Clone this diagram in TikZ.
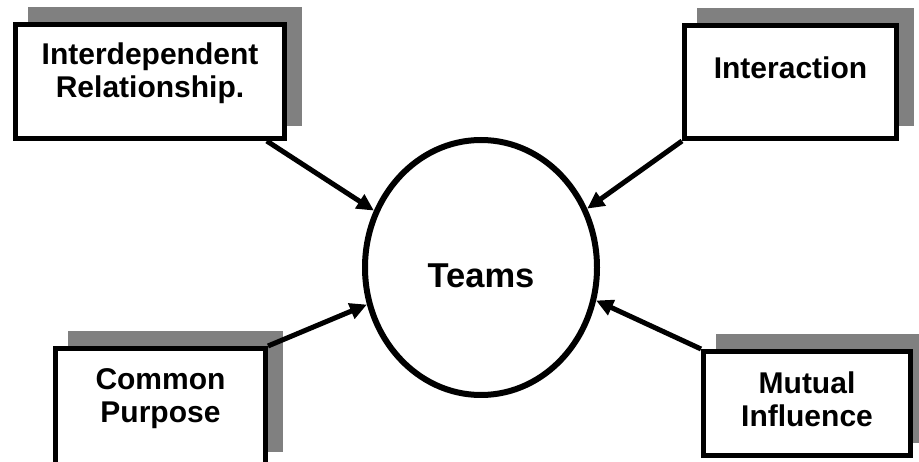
\documentclass[tikz,border=0pt]{standalone}
\usepackage{fontspec}
\setmainfont{Liberation Sans}
\usepackage{tikz}
\usetikzlibrary{arrows.meta,shapes.geometric,shadows}
\definecolor{shadowgray}{HTML}{808080}

\begin{document}
\begin{tikzpicture}[x=1pt,y=-1pt,->,>={Triangle[length=17pt,width=16pt]},
                    line width=5pt]
\tikzstyle{every node}=[font=\bfseries\fontsize{30}{33}\selectfont,align=center]
\tikzstyle{every edge}=[draw,line width=5pt]
\tikzstyle{box}=[draw,line width=5pt,fill=white,rectangle,inner sep=0pt,
  general shadow={fill=shadowgray,draw=shadowgray,line width=5pt,
                  shadow xshift=15pt,shadow yshift=15pt}]
\useasboundingbox (0,0) rectangle (919,462);

\node [box,minimum width=269pt,minimum height=114pt,
       label={[yshift=8.5pt]center:{Interdependent\\Relationship.}}] (ir) at (150,81.5) {};
\node [box,minimum width=212pt,minimum height=113pt,
       label={[yshift=14pt]center:Interaction}] (inter) at (790.5,82) {};
\node [box,minimum width=210pt,minimum height=116pt,
       label={[yshift=7.5pt]center:{Common\\Purpose}}] (cp) at (160.5,406.5) {};
\node [box,minimum width=207pt,minimum height=104pt,
       label={[yshift=4.5pt]center:{Mutual\\Influence}}] (mi) at (807,403.5) {};
\node [ellipse,draw,line width=6pt,fill=white,inner sep=0pt,
       minimum width=232pt,minimum height=255pt,
       label={[yshift=-8pt,font=\bfseries\fontsize{34.5}{40}\selectfont]center:Teams}] (teams) at (481,267.5) {};

\path (ir.-27) edge (teams.152)
      (inter.south west) edge (teams.29)
      (cp.north east) edge (teams.198)
      (mi.north west) edge (teams.344);

\end{tikzpicture}
\end{document}
